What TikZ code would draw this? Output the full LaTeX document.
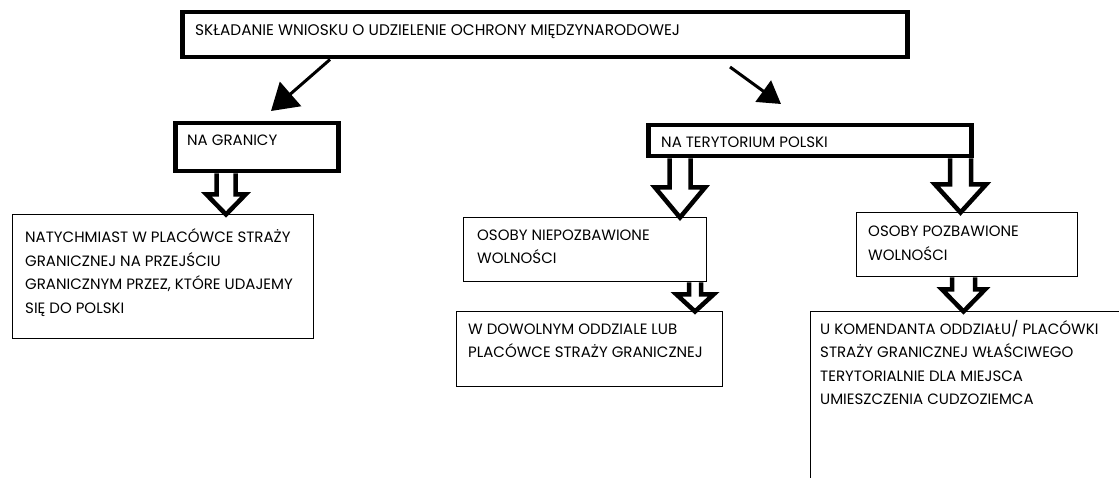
\documentclass[tikz,border=0pt]{standalone}
\usepackage{fontspec}
\setmainfont{Poppins}
\usetikzlibrary{calc,arrows.meta}

% hollow block arrow: #1 x, #2 from node, #3 to node, #4 shaft half width, #5 head half width, #6 head length
\newcommand{\hollowdown}[6]{%
  \path let \p1=(#1,0 |- #2.south), \p2=(#1,0 |- #3.north) in
    [draw, fill=white, line width=4.5pt, line join=miter]
    (\x1-#4,\y1) -- (\x1-#4,\y2+#6) -- (\x1-#5,\y2+#6) -- (\x1,\y2)
    -- (\x1+#5,\y2+#6) -- (\x1+#4,\y2+#6) -- (\x1+#4,\y1);}

\begin{document}
\begin{tikzpicture}[x=1pt,y=1pt]
  \tikzset{thickbox/.style={draw, line width=4.5pt, inner sep=0pt, anchor=north west},
    thinbox/.style={draw, line width=1pt, inner sep=0pt, anchor=north west},
    txt/.style={inner sep=0pt, anchor=base west, align=left,
      font=\fontsize{15}{23.5}\selectfont},
    diag/.style={line width=3pt, -{Triangle[length=26pt,width=32pt]}}}
  \useasboundingbox (0,0) rectangle (1119,-478);
  \clip (0,0) rectangle (1119,-478);

  % boxes
  \node[thickbox, minimum width=725, minimum height=45] (wniosek) at (180,-10) {};
  \node[thickbox, minimum width=163, minimum height=48] (granica) at (173,-121) {};
  \node[thinbox, minimum width=301, minimum height=123] (natych) at (11.5,-214.5) {};
  \node[thickbox, minimum width=323, minimum height=31] (teryt) at (646,-123) {};
  \node[thinbox, minimum width=243, minimum height=64] (niepozb) at (462.5,-217.5) {};
  \node[thinbox, minimum width=266, minimum height=74] (dowolny) at (455.5,-311.5) {};
  \node[thinbox, minimum width=221, minimum height=64] (pozb) at (855.5,-212.5) {};
  \node[thinbox, minimum width=330, minimum height=190] (komend) at (809.5,-311.5) {};

  % texts (anchored at the baseline of the last line)
  \node[txt, font=\fontsize{15.35}{23.5}\selectfont] (wniosek-t) at (195,-35.5) {SKŁADANIE WNIOSKU O UDZIELENIE OCHRONY MIĘDZYNARODOWEJ};
  \node[txt] (granica-t) at (187,-146) {NA GRANICY};
  \node[txt] (natych-t) at (25,-313) {NATYCHMIAST W PLACÓWCE STRAŻY\\GRANICZNEJ NA PRZEJŚCIU\\GRANICZNYM PRZEZ, KTÓRE UDAJEMY\\SIĘ DO POLSKI};
  \node[txt] (teryt-t) at (661,-148) {NA TERYTORIUM POLSKI};
  \node[txt] (niepozb-t) at (477,-264) {OSOBY NIEPOZBAWIONE\\WOLNOŚCI};
  \node[txt] (dowolny-t) at (468,-357.5) {W DOWOLNYM ODDZIALE LUB\\PLACÓWCE STRAŻY GRANICZNEJ};
  \node[txt] (pozb-t) at (868,-260.5) {OSOBY POZBAWIONE\\WOLNOŚCI};
  \node[txt] (komend-t) at (820,-404.5) {U KOMENDANTA ODDZIAŁU/ PLACÓWKI\\STRAŻY GRANICZNEJ WŁAŚCIWEGO\\TERYTORIALNIE DLA MIEJSCA\\UMIESZCZENIA CUDZOZIEMCA};

  % diagonal arrows
  \coordinate (lewy) at (271,-111);
  \coordinate (prawy1) at (730,-67);
  \coordinate (prawy2) at (781,-104);
  \draw[diag] (330,0 |- wniosek.south) -- (lewy);
  \draw[diag, -{Triangle[length=22pt,width=26pt]}] (prawy1) -- (prawy2);

  % block arrows
  \hollowdown{226}{granica}{natych}{9.5}{19.5}{20}
  \hollowdown{680}{teryt}{niepozb}{10.5}{25}{30}
  \hollowdown{960.5}{teryt}{pozb}{10.5}{25.5}{28}
  \hollowdown{695}{niepozb}{dowolny}{6}{18.5}{17}
  \hollowdown{963.5}{pozb}{komend}{11.5}{21.5}{22}
\end{tikzpicture}
\end{document}
